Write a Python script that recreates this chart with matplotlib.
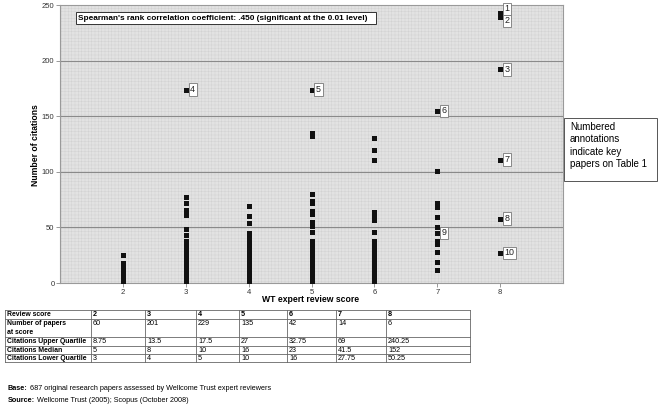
import matplotlib
matplotlib.use('Agg')
import matplotlib.pyplot as plt
from matplotlib import font_manager
from matplotlib.patches import Rectangle

# citations per paper, by WT expert review score
cites_2 = [0, 2, 4, 6, 8, 10, 12, 14, 16, 18, 25]
cites_3 = [0, 2, 4, 6, 8, 10, 12, 14, 16, 18, 20, 22, 24, 26, 28, 30, 32, 33,
           38, 43, 49, 61, 66, 72, 77]
cites_4 = [0, 2, 4, 6, 8, 10, 12, 14, 16, 18, 20, 22, 24, 26, 28, 30, 32, 34,
           36, 38, 40, 42, 44, 45, 54, 60, 69]
cites_5 = [0, 2, 4, 6, 8, 10, 12, 14, 16, 18, 20, 22, 24, 26, 28, 30, 32, 34,
           36, 38, 46, 51, 55, 62, 65, 72, 74, 80, 132, 135]
cites_6 = [0, 2, 4, 6, 8, 10, 12, 14, 16, 18, 20, 22, 24, 26, 28, 30, 32, 34,
           36, 38, 46, 57, 60, 64, 111, 120, 130]
cites_7 = [12, 19, 28, 35, 38, 50, 59, 68, 72, 101]
score_cites = {2: cites_2, 3: cites_3, 4: cites_4, 5: cites_5,
               6: cites_6, 7: cites_7}

# key papers (numbered annotations)
key_labels = ['1', '2', '3', '4', '5', '6', '7', '8', '9', '10']
key_score = [8, 8, 8, 3, 5, 7, 8, 8, 7, 8]
key_cites = [243, 239, 192, 174, 174, 155, 111, 58, 45, 27]

# summary table
scores = [2, 3, 4, 5, 6, 7, 8]
row_names = ['Review score', 'Number of papers\nat score',
             'Citations Upper Quartile', 'Citations Median',
             'Citations Lower Quartile']
n_papers = ['60', '201', '229', '135', '42', '14', '6']
upper_q = ['8.75', '13.5', '17.5', '27', '32.75', '69', '240.25']
median_c = ['5', '8', '10', '16', '23', '41.5', '152']
lower_q = ['3', '4', '5', '10', '16', '27.75', '50.25']

names = {f.name for f in font_manager.fontManager.ttflist}
narrow = 'Liberation Sans Narrow' in names
plt.rcParams['font.family'] = ['Liberation Sans', 'DejaVu Sans']
plt.rcParams['hatch.linewidth'] = 0.35

W, H = 662, 409
fig = plt.figure(figsize=(W / 100, H / 100), dpi=100)
fig.patch.set_facecolor('white')

left, right, top, bottom = 60, 563, 5, 283
ax = fig.add_axes([left / W, 1 - bottom / H, (right - left) / W,
                   (bottom - top) / H])
ax.set_facecolor('#e2e2e2')
ax.add_patch(Rectangle((0, 0), 1, 1, transform=ax.transAxes,
                       facecolor='none', edgecolor='#d2d2d2', hatch='+++++',
                       lw=0, zorder=0))
ax.set_xlim(1, 9)
ax.set_ylim(0, 250)
ax.set_xticks(scores)
ax.set_yticks([0, 50, 100, 150, 200, 250])
for gy in [50, 100, 150, 200]:
    ax.axhline(gy, color='#8a8a8a', lw=0.8, zorder=1)
for sp in ax.spines.values():
    sp.set_color('#9a9a9a')
    sp.set_linewidth(0.8)
ax.tick_params(labelsize=5.5, length=3, width=0.6, color='#888888',
               labelcolor='#333333', pad=1)

for s, vals in score_cites.items():
    ax.plot([s] * len(vals), vals, 's', color='#111111', ms=3.6, mew=0,
            zorder=3)
ax.plot(key_score, key_cites, 's', color='#111111', ms=3.6, mew=0, zorder=3)

offsets = {'1': 3.0, '2': -2.5}
for lab, xs, ys in zip(key_labels, key_score, key_cites):
    ax.annotate(lab, (xs, ys), xytext=(3.2, offsets.get(lab, 0)),
                textcoords='offset points', ha='left', va='center',
                fontsize=6.4, color='#222222', zorder=4,
                bbox=dict(boxstyle='square,pad=0.18', fc='white',
                          ec='#777777', lw=0.6))

# overlay in pixel coordinates for table and notes (drawn above the plot)
pix = fig.add_axes([0, 0, 1, 1])
pix.set_xlim(0, W)
pix.set_ylim(H, 0)
pix.axis('off')
pix.set_zorder(5)

# Spearman box
pix.add_patch(Rectangle((76, 12), 300, 12, fc='white', ec='#333333', lw=0.7))
pix.text(78.5, 18.3, "Spearman's rank correlation coefficient: .450 "
         "(significant at the 0.01 level)", fontsize=5.95, fontweight='bold',
         va='center', ha='left')

# axis titles
pix.text(35, 145, 'Number of citations', rotation=90, fontsize=6.2,
         fontweight='bold', ha='center', va='center')
pix.text(311, 300, 'WT expert review score', fontsize=6.2,
         fontweight='bold', ha='center', va='center')

# side note
pix.add_patch(Rectangle((564, 118), 93, 63, fc='white', ec='#555555',
                        lw=0.7))
pix.text(570, 122, 'Numbered\nannotations\nindicate key\npapers on Table 1',
         fontsize=7.0, ha='left', va='top', linespacing=1.3)

# summary table
col_edges = [5, 91, 145, 196, 239, 287, 336, 386, 470]
row_edges = [310, 319, 337, 345.5, 353.5, 362]
tfam = ['Liberation Sans Narrow', 'Liberation Sans'] if narrow else \
    ['Liberation Sans', 'DejaVu Sans']
tsize = 5.8 if narrow else 5.2
nsize = 5.8 if narrow else 4.95
for yv in row_edges:
    pix.plot([col_edges[0], col_edges[-1]], [yv, yv], color='#666666',
             lw=0.6)
for xv in col_edges:
    pix.plot([xv, xv], [row_edges[0], row_edges[-1]], color='#666666',
             lw=0.6)

rows = [[str(s) for s in scores], n_papers, upper_q, median_c, lower_q]
for i, (name, vals) in enumerate(zip(row_names, rows)):
    y0 = row_edges[i] + 1.0
    pix.text(col_edges[0] + 2, y0, name, fontsize=nsize, family=tfam,
             fontweight='bold', ha='left', va='top', linespacing=1.3)
    for j, v in enumerate(vals):
        pix.text(col_edges[j + 1] + 2, y0, v, fontsize=tsize, family=tfam,
                 fontweight='bold' if i == 0 else 'normal', ha='left',
                 va='top')

# footnotes
fsize = 5.8 if narrow else 5.2
b = pix.text(8, 389, 'Base:', fontsize=fsize, family=tfam, fontweight='bold',
             ha='left', va='center')
pix.annotate(' 687 original research papers assessed by Wellcome Trust '
             'expert reviewers', xy=(1, 0), xycoords=b, fontsize=fsize,
             family=tfam, ha='left', va='bottom')
s = pix.text(8, 401, 'Source:', fontsize=fsize, family=tfam,
             fontweight='bold', ha='left', va='center')
pix.annotate(' Wellcome Trust (2005); Scopus (October 2008)', xy=(1, 0),
             xycoords=s, fontsize=fsize, family=tfam, ha='left', va='bottom')

fig.savefig('out.png', dpi=100)
